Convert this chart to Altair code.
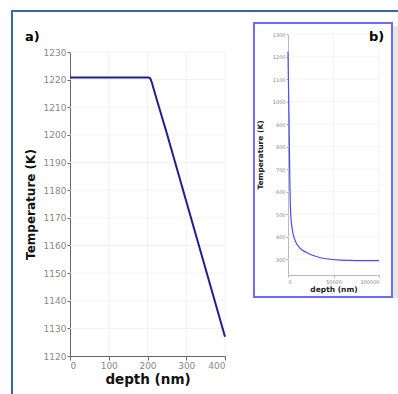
import altair as alt
import pandas as pd

# Panel a): temperature near the surface
depth_a = [0, 50, 100, 150, 200, 205, 208, 212, 216, 220, 230, 250, 300, 350, 400]
temp_a = [1220.8, 1220.8, 1220.8, 1220.8, 1220.8, 1220.7, 1220.2, 1218.6, 1216.6,
          1214.6, 1209.9, 1200.5, 1176.0, 1151.5, 1127.0]

# Panel b): temperature over the full depth
depth_b = [0, 500, 1100, 1900, 3000, 4900, 8600, 12300, 19800, 31000, 42000,
           57000, 75000, 100000]
temp_b = [1221, 1080, 930, 680, 500, 428, 376, 353, 331, 312, 302, 296, 294, 294]

ticks_ax = [0, 100, 200, 300, 400]
ticks_ay = list(range(1120, 1240, 10))
ticks_bx = [0, 50000, 100000]
ticks_by = list(range(300, 1400, 100))

FONT = "DejaVu Sans"
W, H = 398, 394

df_a = pd.DataFrame({"depth": depth_a, "temp": temp_a})
df_b = pd.DataFrame({"depth": depth_b, "temp": temp_b})

# ---- panel a ----
xa = alt.Scale(domain=[0, 400], range=[70, 225], nice=False, zero=False)
ya = alt.Scale(domain=[1120, 1230], range=[356, 52], nice=False, zero=False)

grid_a_v = alt.Chart(pd.DataFrame({
    "depth": ticks_ax[1:], "lo": [1120] * 4, "hi": [1230] * 4
})).mark_rule(color="#f2f2f2", strokeWidth=1).encode(
    x=alt.X("depth:Q", scale=xa, axis=None),
    y=alt.Y("lo:Q", scale=ya, axis=None),
    y2="hi:Q",
)
grid_a_h = alt.Chart(pd.DataFrame({
    "temp": ticks_ay[1:], "lo": [0] * 11, "hi": [400] * 11
})).mark_rule(color="#f2f2f2", strokeWidth=1).encode(
    y=alt.Y("temp:Q", scale=ya, axis=None),
    x=alt.X("lo:Q", scale=xa, axis=None),
    x2="hi:Q",
)
line_a = alt.Chart(df_a).mark_line(color="#1f1f8c", strokeWidth=2).encode(
    x=alt.X("depth:Q", scale=xa, axis=alt.Axis(
        orient="bottom", offset=356 - H, values=ticks_ax, title="depth (nm)",
        format="d", grid=False, domainColor="#666", tickColor="#666",
        tickSize=4, labelColor="#888", labelFont=FONT, labelFontSize=9,
        labelPadding=1, titleFont=FONT, titleFontSize=13.5,
        titleFontWeight="bold", titleColor="#111", titlePadding=2)),
    y=alt.Y("temp:Q", scale=ya, axis=alt.Axis(
        orient="left", offset=-70, values=ticks_ay, title="Temperature (K)",
        format="d", grid=False, domainColor="#666", tickColor="#666",
        tickSize=3, labelColor="#888", labelFont=FONT, labelFontSize=9,
        labelPadding=1, titleFont=FONT, titleFontSize=12,
        titleFontWeight="bold", titleColor="#111", titlePadding=6)),
)

# ---- panel b (inset) ----
xb = alt.Scale(domain=[0, 100000], range=[288, 379], nice=False, zero=False)
yb = alt.Scale(domain=[230, 1300], range=[275, 34], nice=False, zero=False)

inset_shadow = alt.Chart(pd.DataFrame({"k": [0]})).mark_rect(
    fill="#e6e6e6", stroke=None
).encode(
    x=alt.value(393), x2=alt.value(398), y=alt.value(26), y2=alt.value(298)
)
inset_box = alt.Chart(pd.DataFrame({"k": [0]})).mark_rect(
    fill=None, stroke="#6b6bff", strokeWidth=2
).encode(
    x=alt.value(254), x2=alt.value(392), y=alt.value(23), y2=alt.value(297)
)
grid_b_v = alt.Chart(pd.DataFrame({
    "depth": ticks_bx[1:], "lo": [230] * 2, "hi": [1300] * 2
})).mark_rule(color="#f0f0f0", strokeWidth=0.8).encode(
    x=alt.X("depth:Q", scale=xb, axis=None),
    y=alt.Y("lo:Q", scale=yb, axis=None),
    y2="hi:Q",
)
grid_b_h = alt.Chart(pd.DataFrame({
    "temp": ticks_by, "lo": [0] * 11, "hi": [100000] * 11
})).mark_rule(color="#f0f0f0", strokeWidth=0.8).encode(
    y=alt.Y("temp:Q", scale=yb, axis=None),
    x=alt.X("lo:Q", scale=xb, axis=None),
    x2="hi:Q",
)
line_b = alt.Chart(df_b).mark_line(
    color="#4b4bf5", strokeWidth=1.2, interpolate="monotone"
).encode(
    x=alt.X("depth:Q", scale=xb, axis=alt.Axis(
        orient="bottom", offset=275 - H, values=ticks_bx, title="depth (nm)",
        format="d", grid=False, domainColor="#bbb",
        tickColor="#aaa", tickSize=2, labelColor="#888", labelFont=FONT,
        labelFontSize=5, labelPadding=2, titleFont=FONT, titleFontSize=7.5,
        titleFontWeight="bold", titleColor="#222", titlePadding=1)),
    y=alt.Y("temp:Q", scale=yb, axis=alt.Axis(
        orient="left", offset=-288, values=ticks_by, title="Temperature (K)",
        format="d", grid=False, domainColor="#bbb",
        tickColor="#aaa", tickSize=2, labelColor="#888", labelFont=FONT,
        labelFontSize=5, labelPadding=1, titleFont=FONT, titleFontSize=7.5,
        titleFontWeight="bold", titleColor="#222", titlePadding=8)),
)

# ---- frame and panel letters ----
frame = alt.Chart(pd.DataFrame({"k": [0]})).mark_rect(
    fill=None, stroke="#3d64a6", strokeWidth=2
).encode(
    x=alt.value(12), x2=alt.value(440), y=alt.value(11), y2=alt.value(440)
)
label_a = alt.Chart(pd.DataFrame({"t": ["a)"]})).mark_text(
    font=FONT, fontSize=13, fontWeight="bold", color="#000", align="left",
    baseline="middle"
).encode(text="t:N", x=alt.value(25), y=alt.value(37))
label_b = alt.Chart(pd.DataFrame({"t": ["b)"]})).mark_text(
    font=FONT, fontSize=13, fontWeight="bold", color="#000", align="left",
    baseline="middle"
).encode(text="t:N", x=alt.value(369), y=alt.value(37))

chart = alt.layer(
    frame, grid_a_v, grid_a_h, line_a, inset_shadow, inset_box, grid_b_v,
    grid_b_h, line_b, label_a, label_b
).resolve_scale(
    x="independent", y="independent"
).resolve_axis(
    x="independent", y="independent"
).properties(
    width=W, height=H, padding=0, autosize=alt.AutoSizeParams(type="none"),
    background="white"
).configure_view(stroke=None)

chart.save("out.html", embed_options={"renderer": "svg", "actions": False})
